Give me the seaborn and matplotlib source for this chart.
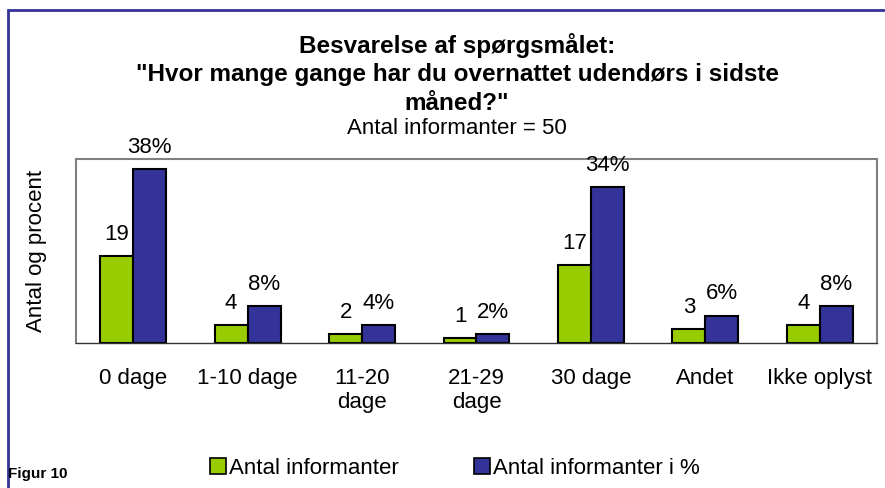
import matplotlib

matplotlib.use("Agg")

import matplotlib.pyplot as plt
import matplotlib.patches as mpatches
import pandas as pd
import seaborn as sns

CATEGORIES = ["0 dage", "1-10 dage", "11-20\ndage", "21-29\ndage", "30 dage", "Andet", "Ikke oplyst"]
COUNTS = [19, 4, 2, 1, 17, 3, 4]
PERCENTS = [38, 8, 4, 2, 34, 6, 8]
SERIES = ["Antal informanter", "Antal informanter i %"]
COLORS = ["#99CC00", "#333399"]

TITLE_LINES = [
    "Besvarelse af spørgsmålet:",
    "\"Hvor mange gange har du overnattet udendørs i sidste",
    "måned?\"",
]
SUBTITLE = "Antal informanter = 50"


def build_frame() -> pd.DataFrame:
    rows = []
    for series, values in zip(SERIES, [COUNTS, PERCENTS]):
        for cat, val in zip(CATEGORIES, values):
            rows.append({"kategori": cat, "serie": series, "vaerdi": val})
    return pd.DataFrame(rows)


def main() -> None:
    sns.set_style("white")
    plt.rcParams["font.family"] = ["Liberation Sans", "DejaVu Sans"]
    plt.rcParams["text.color"] = "black"
    plt.rcParams["axes.labelcolor"] = "black"
    plt.rcParams["xtick.color"] = "black"

    df = build_frame()
    fig = plt.figure(figsize=(8.85, 4.88), dpi=100)
    ax = fig.add_axes([76 / 885, 1 - 343 / 488, 801 / 885, 184 / 488])

    sns.barplot(
        data=df,
        x="kategori",
        y="vaerdi",
        hue="serie",
        hue_order=SERIES,
        order=CATEGORIES,
        palette=COLORS,
        width=0.576,
        gap=0,
        edgecolor="black",
        linewidth=1.5,
        saturation=1,
        legend=False,
        ax=ax,
    )

    ax.bar_label(ax.containers[0], labels=[str(v) for v in COUNTS], padding=8, fontsize=16)
    ax.bar_label(ax.containers[1], labels=[f"{v}%" for v in PERCENTS], padding=8, fontsize=16)

    ax.set_ylim(0, 40.2)
    ax.set_xlim(-0.5, len(CATEGORIES) - 0.5)
    ax.set_yticks([])
    ax.set_xlabel("")
    ax.set_ylabel("Antal og procent", fontsize=16, labelpad=21)
    ax.tick_params(axis="x", which="major", length=0, pad=18, labelsize=16)
    ax.set_xticks([i - 0.5 for i in range(len(CATEGORIES) + 1)], minor=True)
    ax.tick_params(axis="x", which="minor", length=5, width=1, color="#333333", direction="out")
    for side in ["top", "left", "right"]:
        ax.spines[side].set_color("#808080")
        ax.spines[side].set_linewidth(1.5)
    ax.spines["bottom"].set_color("#333333")
    ax.spines["bottom"].set_linewidth(1)

    for text, ypix in zip(TITLE_LINES, [53, 81, 110]):
        fig.text(457 / 885, 1 - ypix / 488, text, ha="center", va="baseline",
                 fontsize=17.5, fontweight="bold")
    fig.text(457 / 885, 1 - 134 / 488, SUBTITLE, ha="center", va="baseline", fontsize=16)

    fig.text(8 / 885, 1 - 474 / 488, "Figur 10", ha="left", va="center",
             fontsize=11, fontweight="bold")

    handles = [
        mpatches.Patch(facecolor=c, edgecolor="black", linewidth=1.2, label=s)
        for c, s in zip(COLORS, SERIES)
    ]
    fig.legend(
        handles=handles,
        loc="center left",
        bbox_to_anchor=(210 / 885, 1 - 468 / 488),
        ncol=2,
        frameon=False,
        fontsize=16,
        handlelength=0.7,
        handleheight=0.7,
        handletextpad=0.15,
        columnspacing=3.4,
        borderaxespad=0,
        borderpad=0,
    )

    border = mpatches.Rectangle(
        (8 / 885, -0.5), 1.2, 0.5 + 1 - 10 / 488,
        transform=fig.transFigure, fill=False, edgecolor="#333399", linewidth=2,
    )
    fig.patches.append(border)

    fig.savefig("out.png", dpi=100)
    plt.close(fig)


if __name__ == "__main__":
    main()
